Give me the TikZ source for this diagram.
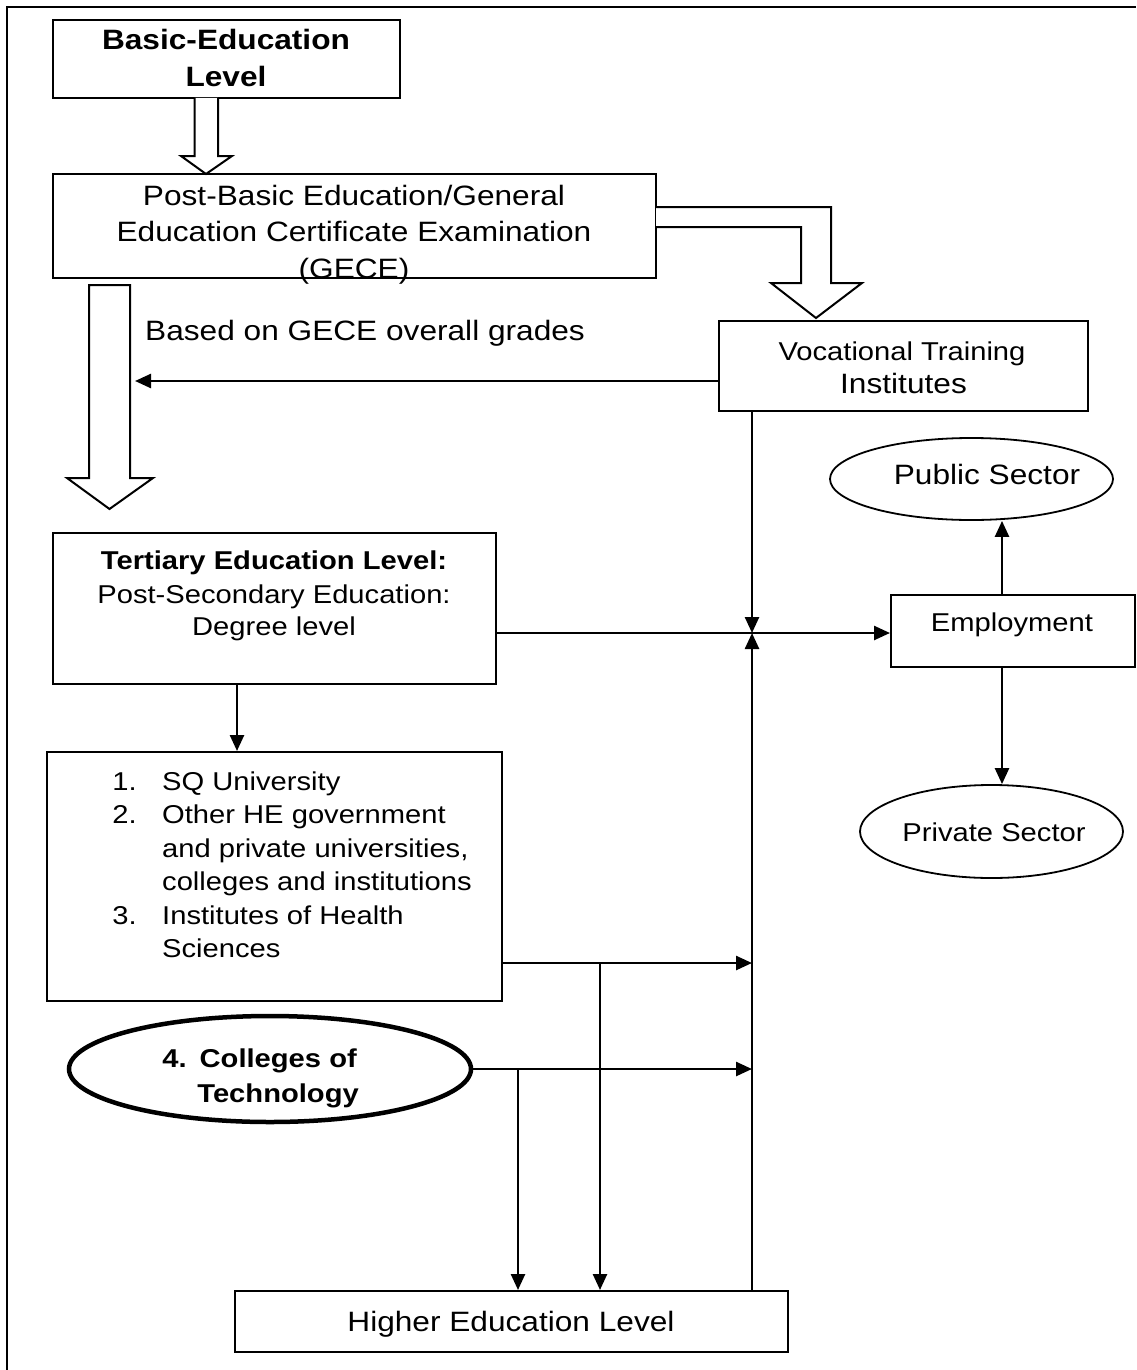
\documentclass[tikz,border=0pt]{standalone}
\usepackage{fontspec}
\setmainfont{Liberation Sans}[FakeStretch=1.13]
\usetikzlibrary{arrows.meta,shapes.geometric}
\begin{document}
\begin{tikzpicture}[x=1pt,y=-1pt,
  box/.style={draw,line width=2pt,rectangle,inner sep=0pt},
  oval/.style={draw,line width=1.8pt,ellipse,inner sep=0pt},
  txt/.style={inner sep=0pt,anchor=base},
  fa/.style={font=\fontsize{28}{34}\selectfont},
  fb/.style={font=\fontsize{25.8}{32}\selectfont},
  fab/.style={font=\fontsize{28}{34}\selectfont\bfseries},
  fbb/.style={font=\fontsize{25.8}{32}\selectfont\bfseries},
  conn/.style={line width=2.5pt},
  arr/.style={conn,-{Triangle[length=16pt,width=14pt]}},
  hollow/.style={draw,line width=2pt,fill=white,line join=miter}
]
\useasboundingbox (0,0) rectangle (1136,1370);
\fill[white] (0,0) rectangle (1136,1370);
% outer frame (left and top only)
\draw[line width=2.8pt] (7,1370) -- (7,7) -- (1136,7);

% Basic education
\node[box,minimum width=347pt,minimum height=78pt] (basic) at (226.5,59) {};
\node[txt,fab] (basic1) at (226,50) {Basic-Education};
\node[txt,fab] (basic2) at (226,86.7) {Level};

% hollow arrow basic -> post-basic
\draw[hollow] (194.5,98) -- (194.5,156) -- (181,156) -- (206,174) -- (232,156) -- (218,156) -- (218,98);

% Post-basic
\node[box,minimum width=603pt,minimum height=104pt] (pb) at (354.5,226) {};
\node[txt,fa] (pb1) at (354,205) {Post-Basic Education/General};
\node[txt,fa] (pb2) at (354,241.7) {Education Certificate Examination};
\node[txt,fa] (pb3) at (354,278.4) {(GECE)};

% big hollow arrow down
\draw[hollow] (89,285) -- (89,478) -- (67,478) -- (109.5,509) -- (153,478) -- (130,478) -- (130,285) -- cycle;
% bent hollow arrow to vocational
\draw[hollow] (656,207) -- (831,207) -- (831,283) -- (862,283) -- (816,318) -- (771,283) -- (801,283) -- (801,227) -- (656,227);

\node[txt,fa,anchor=base west] (based) at (145,340) {Based on GECE overall grades};

% Vocational
\node[box,minimum width=369pt,minimum height=90pt] (voc) at (903.5,366) {};
\node[txt,fb] (voc1) at (902,360) {Vocational Training};
\node[txt,fa] (voc2) at (903.5,393.3) {Institutes};

% Tertiary
\node[box,minimum width=443pt,minimum height=151pt] (tert) at (274.5,608.5) {};
\node[txt,fbb] (tert1) at (274,569.3) {Tertiary Education Level:};
\node[txt,fb] (tert2) at (274,603.3) {Post-Secondary Education:};
\node[txt,fb] (tert3) at (274,635) {Degree level};

% List
\node[box,minimum width=455pt,minimum height=249pt] (list) at (274.5,876.5) {};
\node[txt,fb,anchor=base east] (n1) at (137,790) {1.};
\node[txt,fb,anchor=base west] (l1) at (162,790) {SQ University};
\node[txt,fb,anchor=base east] (n2) at (137,823.5) {2.};
\node[txt,fb,anchor=base west] (l2) at (162,823.5) {Other HE government};
\node[txt,fb,anchor=base west] (l3) at (162,857) {and private universities,};
\node[txt,fb,anchor=base west] (l4) at (162,890.5) {colleges and institutions};
\node[txt,fb,anchor=base east] (n3) at (137,924) {3.};
\node[txt,fb,anchor=base west] (l5) at (162,924) {Institutes of Health};
\node[txt,fb,anchor=base west] (l6) at (162,957.5) {Sciences};

% Colleges of Technology
\node[oval,line width=4.5pt,minimum width=402pt,minimum height=106pt] (cot) at (270,1069) {};
\node[txt,fbb,anchor=base east] (cot1) at (357,1067) {4.\hspace{13pt}Colleges of};
\node[txt,fbb,anchor=base east] (cot2) at (359,1102) {Technology};

% Public / Employment / Private
\node[oval,minimum width=283pt,minimum height=82pt] (pub) at (971.5,479) {};
\node[txt,fa] (pubt) at (987,484) {Public Sector};
\node[box,minimum width=244pt,minimum height=72pt] (emp) at (1013,631) {};
\node[txt,fb] (empt) at (1012,631.7) {Employment};
\node[oval,minimum width=263pt,minimum height=93pt] (priv) at (991.5,831.5) {};
\node[txt,fb] (privt) at (994,841.7) {Private Sector};

% Higher education
\node[box,minimum width=553pt,minimum height=61pt] (he) at (511.5,1321.5) {};
\node[txt,fa] (het) at (511,1331.7) {Higher Education Level};

% helper coordinates
\coordinate (bigarr) at (135,381);
\coordinate (junc) at (752,633);
\coordinate (xlist) at (237,0);
\coordinate (ylist) at (0,963);
\coordinate (b1) at (600,963);
\coordinate (b2) at (518,1069);
\coordinate (xemp) at (1002,0);

% connectors
\draw[arr] (voc.west |- bigarr) -- (bigarr);
\draw[arr] (voc.south -| junc) -- (junc);
\draw[arr] (he.north -| junc) -- (junc);
\draw[arr] (tert.east |- junc) -- (emp.west |- junc);
\draw[arr] (tert.south -| xlist) -- (list.north -| xlist);
\draw[arr] (list.east |- ylist) -- (junc |- ylist);
\draw[arr] (cot.east) -- (junc |- cot.east);
\draw[arr] (b1) -- (he.north -| b1);
\draw[arr] (b2) -- (he.north -| b2);
\draw[arr] (emp.north -| xemp) -- (pub.south -| xemp);
\draw[arr] (emp.south -| xemp) -- (priv.north -| xemp);
\end{tikzpicture}
\end{document}
